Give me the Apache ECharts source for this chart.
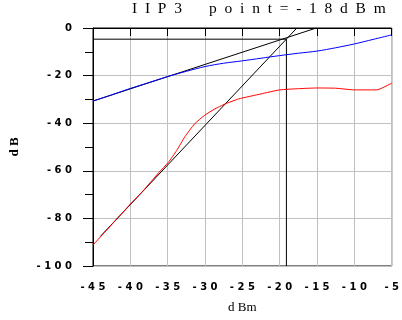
<!DOCTYPE html>
<html>
<head>
<meta charset="utf-8">
<script src="https://cdn.jsdelivr.net/npm/echarts@6/dist/echarts.min.js"></script>
<style>
  html, body { margin: 0; padding: 0; background: #fff; }
  #chart { width: 402px; height: 320px; }
</style>
</head>
<body>
<div id="chart"></div>
<script>
// fundamental output (blue) and third-order product (red), dBm in -> dB out
var fundIn  = [-45, -42.5, -40, -37.5, -35, -32.5, -30, -27.5, -25, -22.5, -20, -17.5, -15, -12.5, -10, -7.5, -5];
var fundOut = [-30.7, -28.1, -25.4, -22.9, -20.4, -18.2, -16.2, -14.8, -13.8, -12.7, -11.6, -10.6, -9.7, -8.3, -6.7, -4.8, -2.9];

var im3In  = [-45, -42.5, -40, -38.2, -36.2, -34.9, -33.8, -32.7, -31.4, -30.1, -28.8, -27.3, -25.5, -22.5, -20, -17.5, -15, -12.5, -10, -7, -5];
var im3Out = [-91.2, -82.6, -74.0, -68.1, -60.8, -56.4, -51.5, -45.7, -40.3, -36.8, -34.2, -31.9, -29.8, -27.7, -26.0, -25.5, -25.2, -25.3, -26.0, -26.0, -23.2];

// extrapolated slope-1 and slope-3 lines, and the intercept marker
var slope1 = [[-45, -30.7], [-15.1, 0]];
var slope3 = [[-44, -87.5], [-17.7, 0]];
var iip3X = -19.1, iip3Y = -4.7;

var titleText = 'IIP3 point=-18dBm';

function spaced(s, gap) {
  return s.split('').map(function (c) { return c === ' ' ? '   ' : c; }).join(gap);
}
function pairs(xs, ys) {
  return xs.map(function (x, i) { return [x, ys[i]]; });
}

var chart = echarts.init(document.getElementById('chart'));
var tickFont = { color: '#000', fontFamily: 'DejaVu Sans', fontWeight: 'bold', fontSize: 10 };

chart.setOption({
  animation: false,
  backgroundColor: '#fff',
  title: {
    text: spaced(titleText, '  '),
    left: 132, top: 1, padding: 0,
    textStyle: { color: '#000', fontFamily: 'Liberation Serif', fontWeight: 'normal', fontSize: 15.5 }
  },
  grid: { left: 87, top: 28, width: 307, height: 238, show: true, borderColor: '#000', borderWidth: 1 },
  xAxis: {
    type: 'value', min: -45, max: -5, interval: 5,
    name: 'd Bm', nameLocation: 'middle', nameGap: 35,
    nameTextStyle: { color: '#000', fontFamily: 'Liberation Serif', fontSize: 13 },
    axisLine: { lineStyle: { color: '#000' } },
    axisTick: { length: 8, lineStyle: { color: '#000' } },
    axisLabel: Object.assign({ margin: 16, formatter: function (v) { return spaced(String(v), ' '); } }, tickFont),
    splitLine: { lineStyle: { color: '#c0c0c0' } }
  },
  yAxis: {
    type: 'value', min: -100, max: 0, interval: 20,
    name: 'd B', nameLocation: 'middle', nameGap: 72, nameRotate: 90,
    nameTextStyle: { color: '#000', fontFamily: 'Liberation Serif', fontWeight: 'bold', fontSize: 13 },
    axisLine: { lineStyle: { color: '#000' } },
    axisTick: { length: 10, lineStyle: { color: '#000' } },
    minorTick: { show: true, splitNumber: 2, length: 8, lineStyle: { color: '#000' } },
    axisLabel: Object.assign({ margin: 21, formatter: function (v) { return spaced(String(v), ' '); } }, tickFont),
    splitLine: { lineStyle: { color: '#c0c0c0' } }
  },
  series: [
    { type: 'line', data: slope1, symbol: 'none', lineStyle: { color: '#000', width: 1 } },
    { type: 'line', data: slope3, symbol: 'none', lineStyle: { color: '#000', width: 1 } },
    { type: 'line', data: [[-45, iip3Y], [iip3X, iip3Y]], symbol: 'none', lineStyle: { color: '#000', width: 1 } },
    { type: 'line', data: [[iip3X, iip3Y], [iip3X, -100]], symbol: 'none', lineStyle: { color: '#000', width: 1 } },
    { type: 'line', data: pairs(fundIn, fundOut), symbol: 'none', smooth: 0.3, lineStyle: { color: '#0000ff', width: 1 } },
    { type: 'line', data: pairs(im3In, im3Out), symbol: 'none', smooth: 0.15, lineStyle: { color: '#ff0000', width: 1 } }
  ]
});
</script>
</body>
</html>
